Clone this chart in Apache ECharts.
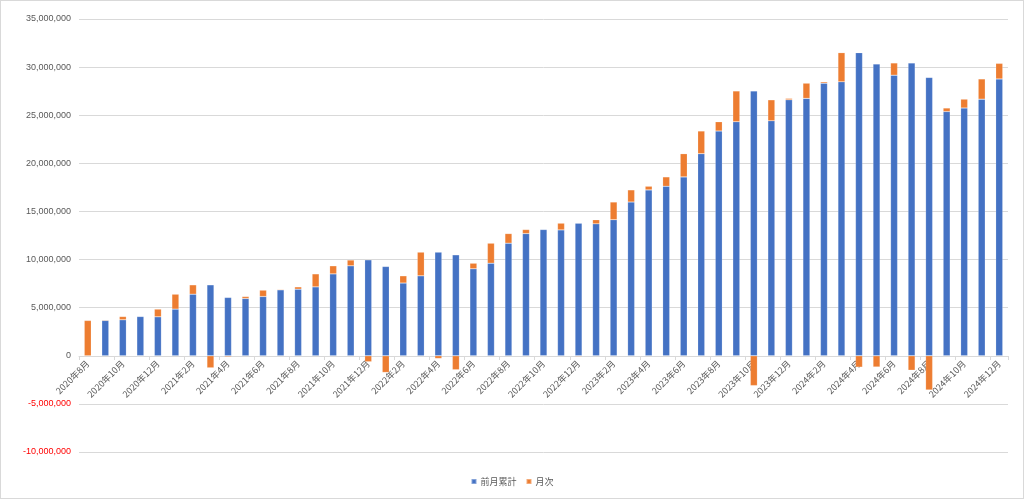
<!DOCTYPE html>
<html>
<head>
<meta charset="utf-8">
<script src="https://cdn.jsdelivr.net/npm/echarts@6/dist/echarts.min.js"></script>
<style>
html,body{margin:0;padding:0;background:#fff;}
#wrap{position:absolute;left:0;top:0;width:1022px;height:497px;border:1px solid #d9d9d9;}
#chart{width:1022px;height:497px;}
</style>
</head>
<body>
<div id="wrap"><div id="chart"></div></div>
<script>
const categories = ["2020年8月","2020年9月","2020年10月","2020年11月","2020年12月",
"2021年1月","2021年2月","2021年3月","2021年4月","2021年5月","2021年6月","2021年7月","2021年8月","2021年9月","2021年10月","2021年11月","2021年12月",
"2022年1月","2022年2月","2022年3月","2022年4月","2022年5月","2022年6月","2022年7月","2022年8月","2022年9月","2022年10月","2022年11月","2022年12月",
"2023年1月","2023年2月","2023年3月","2023年4月","2023年5月","2023年6月","2023年7月","2023年8月","2023年9月","2023年10月","2023年11月","2023年12月",
"2024年1月","2024年2月","2024年3月","2024年4月","2024年5月","2024年6月","2024年7月","2024年8月","2024年9月","2024年10月","2024年11月","2024年12月"];

// 前月累計 (cumulative up to previous month), yen
const prevCumulative = [0,3670000,3740000,4080000,4050000,
4850000,6400000,7370000,6060000,5950000,6160000,6850000,6920000,7160000,8510000,9350000,9970000,
9280000,7560000,8310000,10770000,10490000,9040000,9620000,11700000,12700000,13120000,13080000,13780000,
13710000,14140000,15980000,17240000,17620000,18590000,21000000,23360000,24320000,27520000,24420000,26600000,
26750000,28330000,28470000,31500000,30320000,29160000,30430000,28930000,25380000,25750000,26670000,28770000];

// 月次 (monthly change), yen
const monthly = [3670000,70000,340000,-30000,800000,
1550000,970000,-1250000,-100000,210000,660000,70000,240000,1350000,840000,600000,-620000,
-1730000,750000,2460000,-280000,-1450000,580000,2080000,1000000,420000,-40000,700000,-70000,
430000,1840000,1260000,380000,970000,2410000,2360000,960000,3200000,-3100000,2180000,150000,
1580000,140000,3030000,-1180000,-1160000,1270000,-1500000,-3550000,370000,920000,2100000,1620000];

const seriesNames = ["前月累計","月次"];

const yMin = -10000000, yMax = 35000000;
const gridTop = 18, gridBottom = 46, chartH = 497;
const plotH = chartH - gridTop - gridBottom;
const zeroOffset = -Math.round(plotH * (0 - yMin) / (yMax - yMin));

const chart = echarts.init(document.getElementById('chart'));
const fontFamily = "'Noto Sans CJK JP', 'Liberation Sans', sans-serif";
chart.setOption({
  animation:false,
  textStyle:{fontFamily:fontFamily},
  color:['#4472C4','#ED7D31'],
  grid:{left:78,right:15,top:gridTop,bottom:gridBottom,containLabel:false},
  legend:{
    top:471,left:'center',
    icon:'rect',itemWidth:5,itemHeight:5,itemGap:9,
    textStyle:{color:'#595959',fontSize:9,padding:[0,0,0,-1],fontFamily:fontFamily},
    data:seriesNames
  },
  xAxis:{
    type:'category',
    data:categories,
    offset:zeroOffset,
    axisLine:{onZero:false,lineStyle:{color:'#d9d9d9'}},
    axisTick:{show:true,interval:1,length:4,lineStyle:{color:'#d9d9d9'}},
    axisLabel:{interval:1,rotate:45,color:'#595959',fontSize:9,margin:6,fontFamily:fontFamily}
  },
  yAxis:{
    type:'value',
    min:yMin,max:yMax,interval:5000000,
    axisLine:{show:false},axisTick:{show:false},
    splitLine:{lineStyle:{color:'#d9d9d9'}},
    axisLabel:{
      fontSize:9,margin:8,fontFamily:"'Liberation Sans', sans-serif",
      formatter:function(v){return v.toLocaleString('en-US');},
      color:function(v){return Number(v)<0?'#FF0000':'#595959';}
    }
  },
  series:[
    {name:seriesNames[0],type:'bar',stack:'total',data:prevCumulative,barWidth:'40%',
     itemStyle:{color:'#4472C4',borderColor:'rgba(255,255,255,0.35)',borderWidth:0.5}},
    {name:seriesNames[1],type:'bar',stack:'total',data:monthly,barWidth:'40%',
     itemStyle:{color:'#ED7D31',borderColor:'rgba(255,255,255,0.35)',borderWidth:0.5}}
  ]
});
</script>
</body>
</html>
